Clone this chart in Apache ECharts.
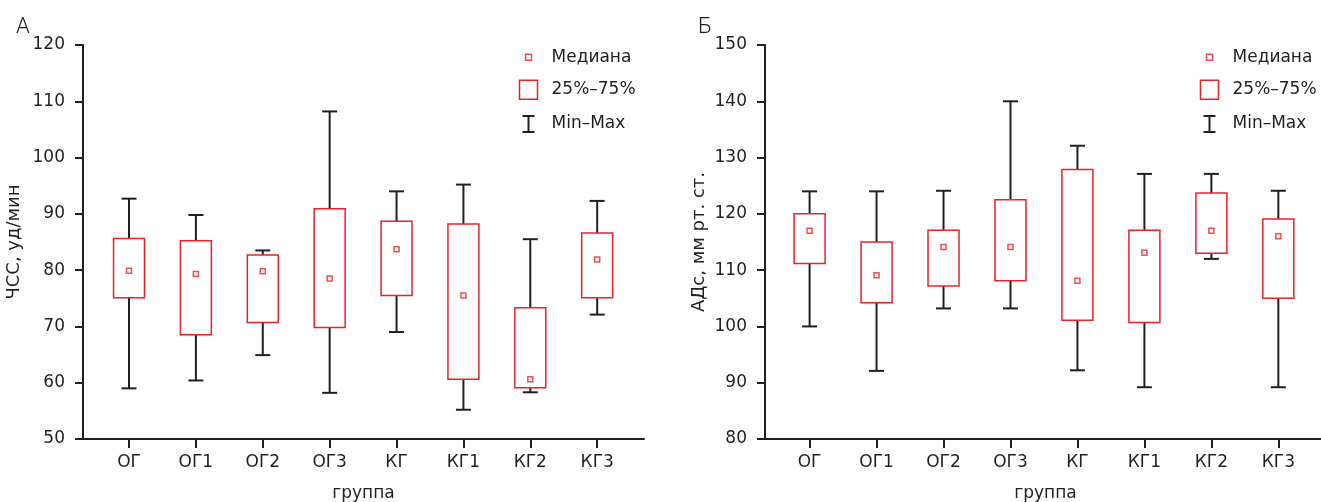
<!DOCTYPE html>
<html>
<head>
<meta charset="utf-8">
<script src="https://cdn.jsdelivr.net/npm/echarts@6.0.0/dist/echarts.min.js"></script>
<style>
  html, body { margin: 0; padding: 0; background: #fff; }
  #main { width: 1321px; height: 502px; }
</style>
</head>
<body>
<div id="main"></div>
<script>
// группы
const groups = ['ОГ', 'ОГ1', 'ОГ2', 'ОГ3', 'КГ', 'КГ1', 'КГ2', 'КГ3'];
const groupPos = [0, 1, 2, 3, 4, 5, 6, 7];

// А: ЧСС, уд/мин
const hrMin = [59.0, 60.4, 64.9, 58.2, 69.0, 55.2, 58.3, 72.1];
const hrQ1 = [75.1, 68.5, 70.7, 69.8, 75.5, 60.6, 59.1, 75.1];
const hrMedian = [79.9, 79.3, 79.8, 78.5, 83.7, 75.5, 60.6, 81.9];
const hrQ3 = [85.6, 85.2, 82.7, 90.9, 88.7, 88.2, 73.3, 86.6];
const hrMax = [92.7, 89.8, 83.5, 108.2, 94.0, 95.2, 85.5, 92.3];

// Б: АДс, мм рт. ст.
const bpMin = [100.0, 92.1, 103.2, 103.2, 92.2, 89.2, 112.0, 89.2];
const bpQ1 = [111.2, 104.2, 107.2, 108.1, 101.1, 100.7, 113.0, 105.0];
const bpMedian = [117.0, 109.1, 114.1, 114.1, 108.1, 113.1, 117.0, 116.0];
const bpQ3 = [120.0, 115.0, 117.1, 122.5, 127.9, 117.1, 123.7, 119.1];
const bpMax = [124.0, 124.0, 124.1, 140.0, 132.1, 127.1, 127.1, 124.1];

const RED = '#e8232b';
const DARK = '#231f20';
const FONT = 'DejaVu Sans';
const boxWidth = 0.463;
const capWidth = 0.224;

const chart = echarts.init(document.getElementById('main'), null, { renderer: 'canvas' });

function whiskerItem(params, api) {
  const x = api.value(0);
  const cap = api.size([capWidth, 0])[0] / 2;
  const top = api.coord([x, api.value(4)]);
  const q3 = api.coord([x, api.value(3)]);
  const q1 = api.coord([x, api.value(2)]);
  const bot = api.coord([x, api.value(1)]);
  const st = { stroke: DARK, lineWidth: 2, fill: null };
  return {
    type: 'group',
    children: [
      { type: 'line', shape: { x1: top[0], y1: top[1], x2: q3[0], y2: q3[1] }, style: st },
      { type: 'line', shape: { x1: q1[0], y1: q1[1], x2: bot[0], y2: bot[1] }, style: st },
      { type: 'line', shape: { x1: top[0] - cap, y1: top[1], x2: top[0] + cap, y2: top[1] }, style: st },
      { type: 'line', shape: { x1: bot[0] - cap, y1: bot[1], x2: bot[0] + cap, y2: bot[1] }, style: st }
    ]
  };
}

function boxItem(params, api) {
  const x = api.value(0);
  const w = api.size([boxWidth, 0])[0];
  const q3 = api.coord([x, api.value(2)]);
  const q1 = api.coord([x, api.value(1)]);
  return {
    type: 'rect',
    shape: { x: q3[0] - w / 2, y: q3[1], width: w, height: q1[1] - q3[1] },
    style: { fill: null, stroke: RED, lineWidth: 1.5 }
  };
}

function xAxisFor(gridIndex, min, max) {
  return {
    type: 'value', gridIndex: gridIndex, min: min, max: max,
    name: 'группа', nameLocation: 'middle', nameGap: 46,
    nameTextStyle: { fontFamily: FONT, fontSize: 17, color: DARK },
    axisLine: { show: true, onZero: false, lineStyle: { color: DARK, width: 2 } },
    axisTick: { show: true, length: 9, customValues: groupPos, lineStyle: { color: DARK, width: 2 } },
    axisLabel: {
      customValues: groupPos, margin: 15, fontFamily: FONT, fontSize: 17, color: DARK,
      formatter: function (v) { return groups[Math.round(v)]; }
    },
    splitLine: { show: false }
  };
}

function yAxisFor(gridIndex, name, min, max, gap) {
  return {
    type: 'value', gridIndex: gridIndex, min: min, max: max, interval: 10,
    name: name, nameLocation: 'middle', nameGap: gap,
    nameTextStyle: { fontFamily: FONT, fontSize: 18, color: DARK },
    axisLine: { show: true, onZero: false, lineStyle: { color: DARK, width: 2 } },
    axisTick: { show: true, length: 8, lineStyle: { color: DARK, width: 2 } },
    axisLabel: { margin: 18, fontFamily: FONT, fontSize: 17, color: DARK },
    splitLine: { show: false }
  };
}

function seriesFor(idx, mins, q1s, meds, q3s, maxs) {
  return [
    {
      name: 'Min–Max', type: 'custom', xAxisIndex: idx, yAxisIndex: idx, z: 2,
      itemStyle: { color: DARK },
      renderItem: whiskerItem,
      encode: { x: 0, y: [1, 2, 3, 4] },
      data: groupPos.map((p, i) => [p, mins[i], q1s[i], q3s[i], maxs[i]])
    },
    {
      name: '25%–75%', type: 'custom', xAxisIndex: idx, yAxisIndex: idx, z: 3,
      itemStyle: { color: RED },
      renderItem: boxItem,
      encode: { x: 0, y: [1, 2] },
      data: groupPos.map((p, i) => [p, q1s[i], q3s[i]])
    },
    {
      name: 'Медиана', type: 'scatter', xAxisIndex: idx, yAxisIndex: idx, z: 4,
      symbol: 'rect', symbolSize: 5,
      itemStyle: { color: '#fff', borderColor: RED, borderWidth: 1.5 },
      data: groupPos.map((p, i) => [p, meds[i]])
    }
  ];
}

function legendAt(left) {
  return {
    orient: 'vertical', left: left, top: 47, padding: 0,
    itemWidth: 27, itemHeight: 19, itemGap: 12, selectedMode: false,
    textStyle: { fontFamily: FONT, fontSize: 17, color: DARK },
    data: [
      { name: 'Медиана', icon: 'path://M0,0M27,19M6,6.5h6v6h-6z',
        itemStyle: { color: '#fff', borderColor: RED, borderWidth: 1.5 } },
      { name: '25%–75%', icon: 'path://M0,0M27,19M0,0h18v19h-18z',
        itemStyle: { color: '#fff', borderColor: RED, borderWidth: 1.5 } },
      { name: 'Min–Max', icon: 'path://M0,0M27,19M3,1.5h12M9,1.5v16M3,17.5h12',
        itemStyle: { color: 'none', borderColor: DARK, borderWidth: 2 } }
    ]
  };
}

const option = {
  animation: false,
  title: [
    { text: 'А', left: 11, top: 11, textStyle: { fontFamily: 'Roboto', fontWeight: 300, fontSize: 22, color: DARK } },
    { text: 'Б', left: 693, top: 11, textStyle: { fontFamily: 'Roboto', fontWeight: 300, fontSize: 22, color: DARK } }
  ],
  legend: [legendAt(517), legendAt(1198)],
  grid: [
    { left: 83, top: 45, width: 561, height: 394, outerBoundsMode: 'none', containLabel: false },
    { left: 765, top: 45, width: 561, height: 394, outerBoundsMode: 'none', containLabel: false }
  ],
  xAxis: [xAxisFor(0, -0.688, 7.70), xAxisFor(1, -0.666, 7.712)],
  yAxis: [
    yAxisFor(0, 'ЧСС, уд/мин', 50, 120, 60),
    yAxisFor(1, 'АДс, мм рт. ст.', 80, 150, 57)
  ],
  series: [].concat(
    seriesFor(0, hrMin, hrQ1, hrMedian, hrQ3, hrMax),
    seriesFor(1, bpMin, bpQ1, bpMedian, bpQ3, bpMax)
  )
};

chart.setOption(option);
</script>
</body>
</html>
